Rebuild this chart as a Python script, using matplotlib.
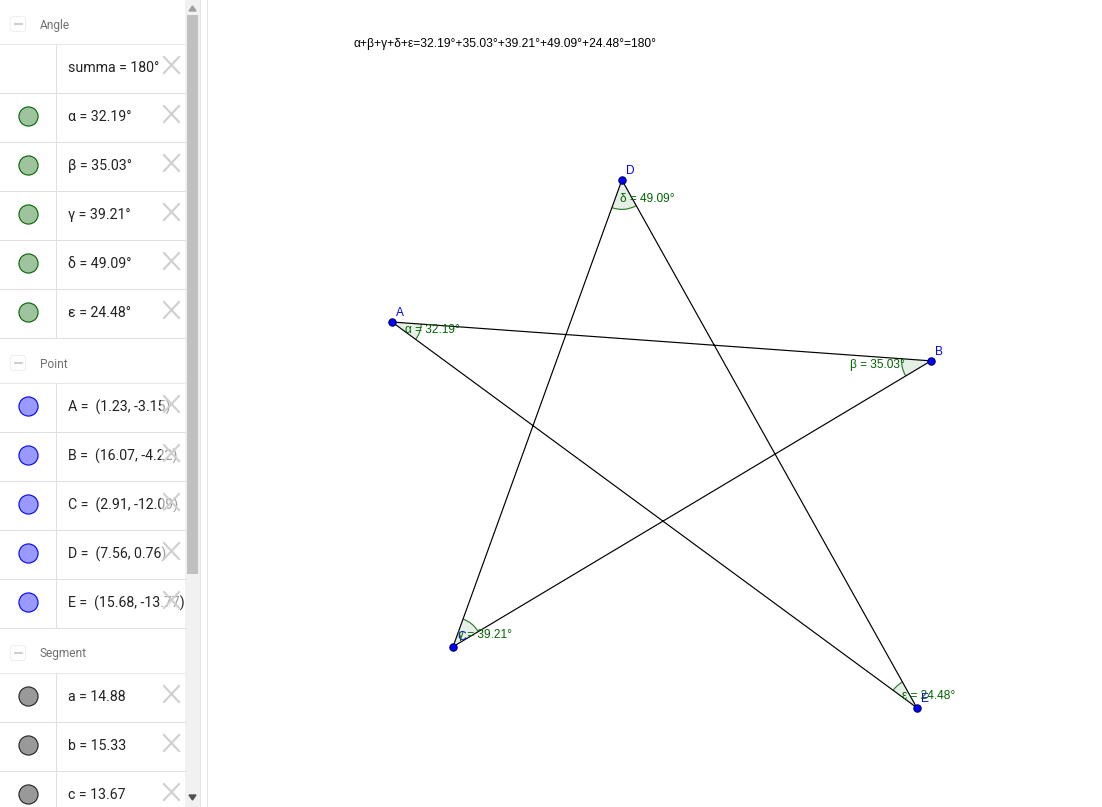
import numpy as np
import matplotlib
matplotlib.use("Agg")
import matplotlib.pyplot as plt
from matplotlib.patches import Wedge, Rectangle, FancyBboxPatch, Polygon

# GeoGebra coordinates of the star
point_names = ["A", "B", "C", "D", "E"]
point_x = [1.23, 16.07, 2.91, 7.56, 15.68]
point_y = [-3.15, -4.22, -12.09, 0.76, -13.77]

angle_names = ["α", "β", "γ", "δ", "ε"]
angle_values = [32.19, 35.03, 39.21, 49.09, 24.48]
angle_total = 180

segment_names = ["a", "b", "c"]
segment_values = [14.88, 15.33, 13.67]

W, H = 1102, 807
UNIT = 36.32  # pixels per unit
X0, Y0 = 392, 322  # pixel position of A

SANS = "Liberation Sans"
GREEN = "#006400"
BLUE = "#0000ff"

fig = plt.figure(figsize=(W / 100, H / 100), dpi=100)

# geometry view
ax = fig.add_axes([0, 0, 1, 1])
ax.set_xlim(point_x[0] - X0 / UNIT, point_x[0] + (W - X0) / UNIT)
ax.set_ylim(point_y[0] - (H - Y0) / UNIT, point_y[0] + Y0 / UNIT)
ax.axis("off")

px = np.array(point_x)
py = np.array(point_y)

# star order A-B-C-D-E-A
order = [0, 1, 2, 3, 4, 0]
ax.plot(px[order], py[order], color="black", lw=0.85, zorder=2)

# angle at each vertex, between its two neighbours in the star
r = 30 / UNIT
for i in range(5):
    prev_i = (i - 1) % 5
    next_i = (i + 1) % 5
    a1 = np.degrees(np.arctan2(py[prev_i] - py[i], px[prev_i] - px[i])) % 360
    a2 = np.degrees(np.arctan2(py[next_i] - py[i], px[next_i] - px[i])) % 360
    if (a2 - a1) % 360 > 180:
        a1, a2 = a2, a1
    ax.add_patch(Wedge((px[i], py[i]), r, a1, a2, facecolor=GREEN, alpha=0.1,
                       edgecolor="none", zorder=1))
    ax.add_patch(Wedge((px[i], py[i]), r, a1, a2, width=1.2 / UNIT, facecolor=GREEN,
                       alpha=0.8, edgecolor="none", zorder=1))

ax.scatter(px, py, s=28, color=BLUE, edgecolor="#000066", linewidth=0.8, zorder=4)

# label offsets in pixels from each point
name_off = [(4, 9), (4, 9), (4, 10), (4, 9), (4, 9)]
angle_off = [(13, -8), (-81, -4), (5, 12), (-2, -19), (-15, 12)]
for i, n in enumerate(point_names):
    ax.annotate(n, (px[i], py[i]), xytext=name_off[i], textcoords="offset pixels",
                color=BLUE, fontsize=8.6, family=SANS, va="center", zorder=5)
    ax.annotate(f"{angle_names[i]} = {angle_values[i]:.2f}°", (px[i], py[i]),
                xytext=angle_off[i], textcoords="offset pixels", color=GREEN,
                fontsize=8.6, family=SANS, va="center", zorder=5)

# algebra panel, drawn in pixel coordinates
panel = fig.add_axes([0, 0, 1, 1], facecolor="none")
panel.set_xlim(0, W)
panel.set_ylim(H, 0)
panel.axis("off")

formula = "+".join(angle_names) + "=" + "+".join(f"{v:.2f}°" for v in angle_values) + f"={angle_total}°"
panel.text(354, 43.5, formula, fontsize=8.68, family=SANS, color="black", va="center")

panel.add_patch(Rectangle((0, 0), 185, H, facecolor="white", edgecolor="none"))
panel.add_patch(Rectangle((185, 0), 15, H, facecolor="#f1f1f1", edgecolor="none"))
panel.add_patch(Rectangle((187, 15), 11, 559, facecolor="#c0c0c0", edgecolor="none"))
panel.add_patch(Polygon([(189, 11), (196, 11), (192.5, 6)], color="#a0a0a0"))
panel.add_patch(Polygon([(189, 795), (196, 795), (192.5, 800)], color="#505050"))
panel.plot([200, 200], [0, H], color="#e4e4e4", lw=0.75)
panel.plot([207, 207], [0, H], color="#e4e4e4", lw=0.75)


def header(y, label):
    panel.add_patch(FancyBboxPatch((10.5, y - 7.5), 15, 15, boxstyle="round,pad=0,rounding_size=2",
                                   facecolor="white", edgecolor="#efefef", lw=0.75))
    panel.plot([15, 22], [y, y], color="#c8c8c8", lw=1.3)
    panel.text(40, y + 1, label, fontsize=8.6, family="Roboto", color="#707070", va="center")
    panel.plot([0, 185], [y + 19.5, y + 19.5], color="#e8e8e8", lw=0.75)


def row(top, label, fill=None, edge=None, faded=False):
    mid = top + 23
    panel.plot([0, 185], [top + 48.5, top + 48.5], color="#e0e0e0", lw=0.75)
    panel.plot([56, 56], [top, top + 48], color="#e0e0e0", lw=0.75)
    if fill:
        panel.scatter([28], [mid], s=190, facecolor=fill, edgecolor=edge, linewidth=0.8, zorder=3)
    panel.text(68, mid + 1, label, fontsize=10.2, family="Roboto", color="#222222", va="center")
    if faded:
        panel.add_patch(Rectangle((161, top + 5), 19, 38, facecolor="white", alpha=0.55,
                                  edgecolor="none", zorder=3))
    panel.plot([164, 179], [mid - 10, mid + 6], color="#cfcfcf", lw=1.5, zorder=4)
    panel.plot([164, 179], [mid + 6, mid - 10], color="#cfcfcf", lw=1.5, zorder=4)


header(24, "Angle")
row(44, f"summa = {angle_total}°")
for k, (n, v) in enumerate(zip(angle_names, angle_values)):
    row(93 + 49 * k, f"{n} = {v:.2f}°", "#9dc49d", GREEN)

header(363, "Point")
for k, n in enumerate(point_names):
    row(383 + 49 * k, f"{n} =  ({point_x[k]:.2f}, {point_y[k]:.2f})", "#9999ff", BLUE, faded=True)

header(653, "Segment")
for k, n in enumerate(segment_names):
    row(673 + 49 * k, f"{n} = {segment_values[k]:.2f}", "#999999", "#222222")

fig.savefig("out.png", dpi=100)
